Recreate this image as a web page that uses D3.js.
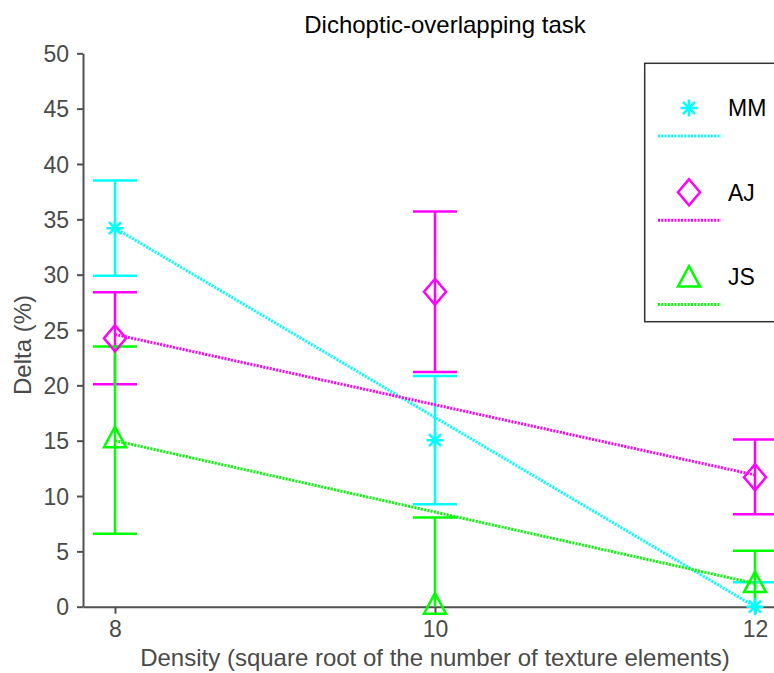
<!DOCTYPE html>
<html>
<head>
<meta charset="utf-8">
<script src="https://cdn.jsdelivr.net/npm/d3@7"></script>
<style>
  html, body { margin: 0; padding: 0; background: #fff; overflow: hidden; }
  text { font-family: "Liberation Sans", Arial, sans-serif; }
</style>
</head>
<body>
<svg id="chart" width="774" height="673"></svg>
<script>
// ---------- data ----------
const densities = [8, 10, 12];
const xTicks = [8, 10, 12];
const yTicks = [0, 5, 10, 15, 20, 25, 30, 35, 40, 45, 50];
const subjects = ["MM", "AJ", "JS"];
const colors = ["#00ffff", "#ff00ff", "#00ff00"];
const markers = ["asterisk", "diamond", "triangle"];

const mmMean = [34.2, 15.05, 0.0];
const mmLow  = [29.9, 9.25, -2.2];
const mmHigh = [38.5, 20.85, 2.2];

const ajMean = [24.25, 28.45, 11.7];
const ajLow  = [20.1, 21.2, 8.35];
const ajHigh = [28.4, 35.7, 15.1];

const jsMean = [15.05, 0.0, 1.95];
const jsLow  = [6.6, -8.1, -1.1];
const jsHigh = [23.5, 8.05, 5.05];

// trend lines (value at density 8 and at density 12)
const trendX = [8, 12];
const mmTrend = [34.2, 0.0];
const ajTrend = [24.6, 11.9];
const jsTrend = [15.0, 2.1];

const title = "Dichoptic-overlapping task";
const xLabel = "Density (square root of the number of texture elements)";
const yLabel = "Delta (%)";

// ---------- layout ----------
const svg = d3.select("#chart");
const x = d3.scaleLinear().domain([7.8, 12.2]).range([83, 787]);
const y = d3.scaleLinear().domain([0, 50]).range([606.7, 53.3]);
const axisColor = "#505050";

const series = [
  { name: subjects[0], color: colors[0], marker: markers[0], mean: mmMean, lo: mmLow, hi: mmHigh, trend: mmTrend },
  { name: subjects[1], color: colors[1], marker: markers[1], mean: ajMean, lo: ajLow, hi: ajHigh, trend: ajTrend },
  { name: subjects[2], color: colors[2], marker: markers[2], mean: jsMean, lo: jsLow, hi: jsHigh, trend: jsTrend }
];

svg.append("defs").append("clipPath").attr("id", "plotclip")
  .append("rect").attr("x", 83).attr("y", 40).attr("width", 700).attr("height", 606.7 - 40);

function markerPath(type) {
  if (type === "asterisk") {
    const r = 8.5, d = r * 0.707;
    return `M${-r},0L${r},0M0,${-r}L0,${r}M${-d},${-d}L${d},${d}M${-d},${d}L${d},${-d}`;
  }
  if (type === "diamond") {
    return "M0,-13L11,0L0,13L-11,0Z";
  }
  // triangle
  return "M0,-13.5L11,7L-11,7Z";
}

// ---------- axes ----------
const yAxis = d3.axisLeft(y).tickValues(yTicks).tickFormat(d3.format("d")).tickSize(6).tickSizeOuter(0).tickPadding(8);
const gy = svg.append("g").attr("transform", "translate(83,0)").call(yAxis);
gy.selectAll("path,line").attr("stroke", axisColor).attr("stroke-width", 2);
gy.selectAll("text").attr("fill", "#4a4a4a").attr("font-size", 23).attr("dy", "0.36em");

const xAxis = d3.axisBottom(x).tickValues(xTicks).tickFormat(d3.format("d")).tickSize(7).tickSizeOuter(0).tickPadding(6);
const gx = svg.append("g").attr("transform", "translate(0,606.7)").call(xAxis);
gx.selectAll("path,line").attr("stroke", axisColor).attr("stroke-width", 2);
gx.selectAll("text").attr("fill", "#4a4a4a").attr("font-size", 23).attr("dy", "0.74em");

// ---------- data marks ----------
const plot = svg.append("g");
const clipped = plot.append("g").attr("clip-path", "url(#plotclip)");
const capHalf = 22;

series.forEach(s => {
  const g = clipped.append("g");
  densities.forEach((d, i) => {
    const cx = x(d);
    g.append("line").attr("x1", cx).attr("x2", cx).attr("y1", y(s.lo[i])).attr("y2", y(s.hi[i]))
      .attr("stroke", s.color).attr("stroke-width", 2.5);
    [s.lo[i], s.hi[i]].forEach(v => {
      g.append("line").attr("x1", cx - capHalf).attr("x2", cx + capHalf).attr("y1", y(v)).attr("y2", y(v))
        .attr("stroke", s.color).attr("stroke-width", 2.5);
    });
  });
});

series.forEach(s => {
  clipped.append("line")
    .attr("x1", x(trendX[0])).attr("y1", y(s.trend[0]))
    .attr("x2", x(trendX[1])).attr("y2", y(s.trend[1]))
    .attr("stroke", s.color).attr("stroke-width", 3).attr("stroke-dasharray", "2,1.3");
});

series.forEach(s => {
  densities.forEach((d, i) => {
    plot.append("path").attr("d", markerPath(s.marker))
      .attr("transform", `translate(${x(d)},${y(s.mean[i])})`)
      .attr("fill", "none").attr("stroke", s.color).attr("stroke-width", 2.5);
  });
});

// ---------- legend ----------
const lg = svg.append("g");
lg.append("rect").attr("x", 644.7).attr("y", 63.3).attr("width", 160).attr("height", 258.4)
  .attr("fill", "#fff").attr("stroke", "#333").attr("stroke-width", 1.5);
series.forEach((s, i) => {
  const yy = 108 + i * 84.3;
  lg.append("path").attr("d", markerPath(s.marker))
    .attr("transform", `translate(689,${yy + (s.marker === "triangle" ? 3 : 0)})`)
    .attr("fill", "none").attr("stroke", s.color).attr("stroke-width", 2.5);
  lg.append("text").attr("x", 728).attr("y", yy).attr("dy", "0.36em")
    .attr("font-size", 23).attr("fill", "#000").text(s.name);
  lg.append("line").attr("x1", 658).attr("x2", 721).attr("y1", yy + 28).attr("y2", yy + 28)
    .attr("stroke", s.color).attr("stroke-width", 3).attr("stroke-dasharray", "2,1.3");
});

// ---------- titles ----------
svg.append("text").attr("x", 445).attr("y", 33).attr("text-anchor", "middle")
  .attr("font-size", 24).attr("fill", "#000").text(title);
svg.append("text").attr("x", 435).attr("y", 666).attr("text-anchor", "middle")
  .attr("font-size", 24).attr("fill", "#4a4a4a").text(xLabel);
svg.append("text").attr("transform", "translate(31,345) rotate(-90)").attr("text-anchor", "middle")
  .attr("font-size", 24).attr("fill", "#4a4a4a").text(yLabel);
</script>
</body>
</html>
